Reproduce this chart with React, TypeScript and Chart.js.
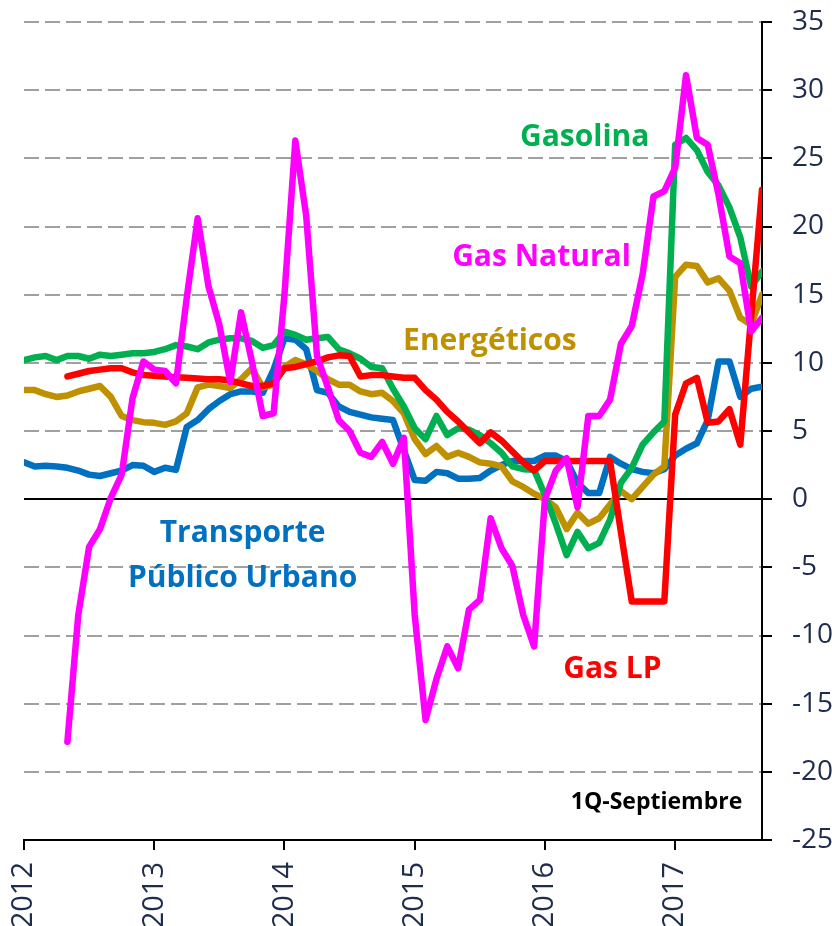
import React, { useEffect, useRef } from 'react';
import { Chart, registerables } from 'chart.js';

Chart.register(...registerables);

// Monthly series, index 0 = Jan 2012 ... index 68 = Sep 2017 (1Q-Septiembre)
const yearLabels = ['2012', '2013', '2014', '2015', '2016', '2017'];

const gasNatural = [
  null, null, null, null, -17.8, -8.5, -3.5, -2.2, 0.1, 1.8, 7.4, 10.1,
  9.5, 9.4, 8.5, 14.8, 20.6, 15.6, 12.8, 8.6, 13.7, 10.1, 6.1, 6.3,
  15.0, 26.3, 20.8, 10.5, 8.2, 5.8, 5.0, 3.4, 3.1, 4.2, 2.6, 4.5,
  -8.5, -16.2, -13.2, -10.8, -12.4, -8.1, -7.4, -1.4, -3.6, -4.9, -8.5, -10.8,
  0.0, 2.1, 3.0, -0.6, 6.1, 6.1, 7.3, 11.4, 12.7, 16.5, 22.2, 22.6,
  24.3, 31.1, 26.5, 26.0, 22.3, 17.8, 17.3, 12.3, 13.3,
];

const gasLP = [
  null, null, null, null, 9.0, 9.2, 9.4, 9.5, 9.6, 9.6, 9.3, 9.1,
  9.05, 9.0, 8.95, 8.9, 8.85, 8.8, 8.8, 8.7, 8.5, 8.3, 8.3, 8.5,
  9.6, 9.7, 9.9, 10.1, 10.4, 10.55, 10.5, 9.0, 9.1, 9.1, 9.0, 8.9,
  8.9, 8.0, 7.3, 6.4, 5.7, 4.9, 4.1, 4.9, 4.3, 3.5, 2.7, 2.1,
  2.8, 2.8, 2.8, 2.8, 2.8, 2.8, 2.8, -2.4, -7.5, -7.5, -7.5, -7.5,
  6.2, 8.5, 8.9, 5.6, 5.7, 6.6, 4.0, 13.4, 22.7,
];

const gasolina = [
  10.2, 10.4, 10.5, 10.2, 10.5, 10.5, 10.3, 10.6, 10.5, 10.6, 10.7, 10.7,
  10.8, 11.0, 11.3, 11.2, 11.0, 11.5, 11.7, 11.8, 11.8, 11.6, 11.1, 11.3,
  12.3, 12.05, 11.7, 11.8, 11.9, 11.0, 10.7, 10.3, 9.7, 9.6, 8.1, 6.8,
  5.2, 4.4, 6.1, 4.7, 5.2, 5.1, 4.7, 4.1, 3.4, 2.4, 2.2, 2.15,
  0.3, -1.8, -4.1, -2.4, -3.6, -3.2, -1.5, 1.2, 2.3, 4.0, 4.9, 5.7,
  26.0, 26.5, 25.6, 24.0, 23.0, 21.4, 19.2, 15.6, 16.7,
];

const energeticos = [
  8.0, 8.0, 7.7, 7.5, 7.6, 7.9, 8.1, 8.3, 7.5, 6.1, 5.8, 5.65,
  5.6, 5.45, 5.7, 6.3, 8.2, 8.4, 8.3, 8.15, 8.8, 9.6, 8.2, 8.4,
  9.7, 10.2, 9.9, 9.4, 8.8, 8.4, 8.4, 7.9, 7.7, 7.8, 7.2, 6.3,
  4.4, 3.3, 3.9, 3.1, 3.4, 3.1, 2.7, 2.6, 2.4, 1.3, 0.9, 0.4,
  0.0, -0.6, -2.2, -1.0, -1.8, -1.4, -0.4, 0.6, 0.0, 0.9, 1.8, 2.4,
  16.3, 17.2, 17.1, 15.9, 16.2, 15.3, 13.3, 12.8, 15.0,
];

const transporte = [
  2.7, 2.4, 2.45, 2.4, 2.3, 2.1, 1.8, 1.7, 1.9, 2.1, 2.5, 2.45,
  2.0, 2.3, 2.15, 5.3, 5.8, 6.6, 7.2, 7.7, 7.9, 7.9, 7.8, 9.5,
  11.8, 11.7, 11.0, 8.0, 7.8, 6.8, 6.4, 6.2, 6.0, 5.9, 5.8, 3.6,
  1.4, 1.35, 2.0, 1.9, 1.5, 1.5, 1.55, 2.1, 2.5, 2.8, 2.8, 2.8,
  3.2, 3.2, 2.8, 1.2, 0.45, 0.45, 3.1, 2.6, 2.2, 2.0, 1.9, 2.2,
  3.2, 3.7, 4.1, 5.8, 10.1, 10.1, 7.5, 8.1, 8.25,
];

// Series label annotations (position in data units: month index, value)
const labelText = ['Gasolina', 'Gas Natural', 'Energéticos', 'Transporte', 'Público Urbano', 'Gas LP', '1Q-Septiembre'];
const labelX = [45.7, 39.45, 34.93, 20.14, 20.14, 49.68, 66.18];
const labelY = [25.89, 17.08, 10.96, -3.11, -6.42, -13.12, -22.69];
const labelColor = ['#00B050', '#FF00FF', '#BF9000', '#0070C0', '#0070C0', '#FF0000', '#000000'];
const labelAlign = ['left', 'left', 'left', 'center', 'center', 'left', 'right'];
const labelSize = [30, 30, 30, 30, 30, 30, 23];

const FONT = "'Open Sans', 'DejaVu Sans', sans-serif";
const AXIS_TEXT = '#1F2D4D';

const labelPlugin = {
  id: 'seriesLabels',
  afterDatasetsDraw(chart: any) {
    const { ctx, scales } = chart;
    const xs = scales.x;
    const ys = scales.y;
    ctx.save();
    labelText.forEach((t, k) => {
      ctx.font = `bold ${labelSize[k]}px ${FONT}`;
      ctx.fillStyle = labelColor[k];
      ctx.textAlign = labelAlign[k] as CanvasTextAlign;
      ctx.textBaseline = 'alphabetic';
      ctx.fillText(t, xs.getPixelForValue(labelX[k]), ys.getPixelForValue(labelY[k]));
    });
    ctx.restore();
  },
};

const toPoints = (arr: (number | null)[]) => arr.map((v, i) => ({ x: i, y: v }));

export default function App() {
  const ref = useRef<HTMLCanvasElement>(null);

  useEffect(() => {
    if (!ref.current) return;
    const lineDs = (label: string, data: (number | null)[], color: string) => ({
      label,
      data: toPoints(data) as any,
      borderColor: color,
      backgroundColor: color,
      borderWidth: 6.5,
      pointRadius: 0,
      tension: 0,
      fill: false,
      borderJoinStyle: 'round' as const,
      borderCapStyle: 'round' as const,
      spanGaps: false,
    });

    const chart = new Chart(ref.current, {
      type: 'line',
      data: {
        datasets: [
          lineDs('Gas Natural', gasNatural, '#FF00FF'),
          lineDs('Gas LP', gasLP, '#FF0000'),
          lineDs('Gasolina', gasolina, '#00B050'),
          lineDs('Energéticos', energeticos, '#BF9000'),
          lineDs('Transporte Público Urbano', transporte, '#0070C0'),
        ],
      },
      options: {
        responsive: false,
        animation: false,
        devicePixelRatio: 1,
        layout: { padding: { top: 22, left: 24, right: 0, bottom: 0 } },
        plugins: {
          legend: { display: false },
          tooltip: { enabled: false },
          title: { display: false },
        },
        scales: {
          x: {
            type: 'linear',
            min: 0,
            max: 68,
            afterBuildTicks: (s: any) => {
              s.ticks = yearLabels.map((_, k) => ({ value: k * 12 }));
            },
            afterFit: (s: any) => {
              s.height = 86;
              s.paddingLeft = 0;
              s.paddingRight = 0;
            },
            ticks: {
              autoSkip: false,
              minRotation: 90,
              maxRotation: 90,
              padding: 12,
              color: AXIS_TEXT,
              font: { family: FONT, size: 29 },
              callback: (v: any) => yearLabels[Math.round(Number(v) / 12)] ?? '',
            },
            grid: {
              drawOnChartArea: false,
              drawTicks: true,
              tickLength: 10,
              color: '#000000',
              lineWidth: 2,
            },
            border: { display: true, color: '#000000', width: 2 },
          },
          y: {
            position: 'right',
            min: -25,
            max: 35,
            afterFit: (s: any) => {
              s.width = 70;
              s.paddingTop = 0;
              s.paddingBottom = 0;
            },
            ticks: {
              stepSize: 5,
              padding: 20,
              color: AXIS_TEXT,
              font: { family: FONT, size: 28 },
            },
            grid: {
              color: (c: any) => (c.tick && c.tick.value === 0 ? '#000000' : '#A0A0A0'),
              lineWidth: 2,
              tickLength: 10,
              tickColor: '#000000',
            },
            border: {
              display: true,
              color: '#000000',
              width: 2,
              dash: (c: any) => (c.tick && c.tick.value === 0 ? [] : [15, 6]),
            },
          },
        },
      },
      plugins: [labelPlugin],
    });
    return () => chart.destroy();
  }, []);

  return (
    <div style={{ position: 'absolute', left: 0, top: 0, width: 832, height: 926, background: '#ffffff' }}>
      <canvas ref={ref} width={832} height={926} style={{ display: 'block', width: 832, height: 926 }} />
    </div>
  );
}
